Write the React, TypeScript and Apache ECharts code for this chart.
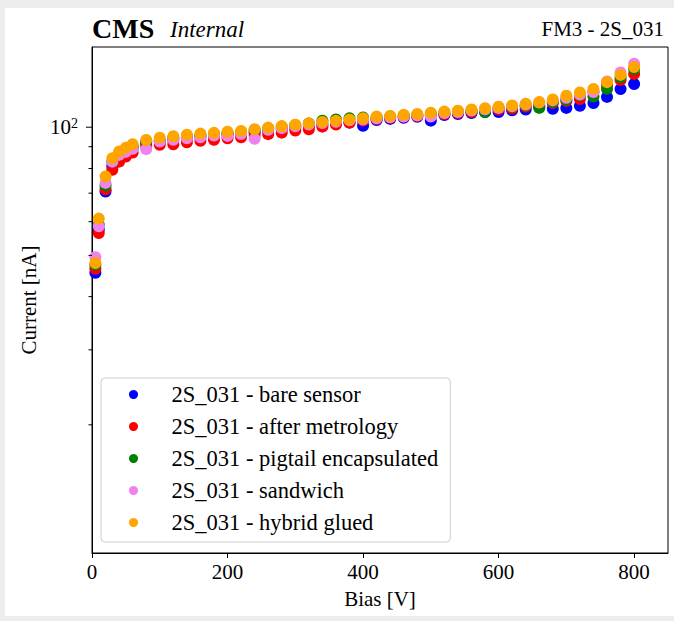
import React, { useEffect, useRef } from 'react';
import * as echarts from 'echarts';

const FONT = '"Liberation Serif", "Times New Roman", serif';

const biasV = [5, 10, 20, 30, 40, 50, 60, 80, 100, 120, 140, 160, 180, 200, 220, 240, 260, 280, 300, 320, 340, 360, 380, 400, 420, 440, 460, 480, 500, 520, 540, 560, 580, 600, 620, 640, 660, 680, 700, 720, 740, 760, 780, 800];

const bareSensor = [45.5, 57.5, 70.6, 81.0, 85.0, 87.3, 89.2, 91.8, 92.8, 93.5, 94.3, 95.0, 95.5, 96.0, 96.5, 97.3, 98.2, 99.0, 99.8, 100.5, 101.3, 102.0, 102.6, 100.8, 104.0, 104.6, 105.2, 105.8, 103.6, 106.8, 107.4, 108.0, 108.6, 108.5, 109.6, 110.0, 111.5, 110.5, 111.0, 112.3, 114.0, 117.8, 122.9, 126.3];
const afterMetrology = [46.5, 56.4, 71.5, 79.4, 83.0, 85.3, 87.2, 90.3, 90.9, 91.2, 92.2, 92.9, 93.4, 94.2, 94.7, 95.8, 96.3, 97.1, 98.2, 98.9, 100.3, 101.5, 102.5, 103.6, 104.5, 105.2, 105.8, 106.2, 106.8, 107.3, 108.0, 108.6, 109.3, 110.0, 110.6, 111.8, 112.6, 114.0, 115.3, 116.5, 121.0, 125.6, 129.1, 133.4];
const pigtailEncapsulated = [47.5, 59.0, 73.0, 83.0, 86.5, 88.5, 90.3, 92.5, 92.8, 94.3, 95.2, 95.8, 96.3, 97.0, 97.5, 98.5, 99.3, 100.2, 101.0, 102.0, 103.6, 104.3, 105.0, 105.4, 105.6, 106.0, 106.5, 107.0, 107.6, 108.2, 108.8, 109.4, 108.5, 111.0, 111.7, 112.6, 111.0, 114.5, 116.0, 118.8, 118.0, 123.0, 131.0, 137.0];
const sandwich = [49.5, 58.5, 74.0, 83.0, 86.1, 87.5, 89.0, 88.8, 92.5, 93.4, 94.2, 94.7, 95.6, 95.4, 96.4, 93.9, 98.6, 99.5, 100.5, 101.5, 102.3, 103.0, 103.8, 104.2, 105.0, 105.5, 106.0, 106.6, 106.0, 108.0, 108.6, 109.4, 110.2, 111.0, 112.0, 113.0, 114.3, 115.6, 117.2, 119.3, 121.0, 128.0, 134.5, 141.0];
const hybridGlued = [48.0, 61.0, 76.6, 84.6, 87.7, 89.5, 91.2, 93.3, 94.5, 95.2, 96.0, 96.6, 97.0, 97.6, 98.0, 98.9, 99.8, 100.6, 101.3, 102.1, 102.9, 103.5, 104.3, 105.0, 105.9, 106.3, 106.9, 107.4, 108.1, 108.8, 109.3, 110.1, 110.8, 111.7, 112.5, 113.5, 114.6, 116.2, 118.6, 120.7, 123.0, 127.6, 132.7, 138.5];

const seriesNames = [
  '2S_031 - bare sensor',
  '2S_031 - after metrology',
  '2S_031 - pigtail encapsulated',
  '2S_031 - sandwich',
  '2S_031 - hybrid glued',
];
const seriesValues = [bareSensor, afterMetrology, pigtailEncapsulated, sandwich, hybridGlued];
const seriesColors = ['#0000ff', '#ff0000', '#008000', '#ee82ee', '#ffa500'];

const xTickStep = 200;
const yMajorTicks = [100];
const yMinorTicks = [20, 30, 40, 50, 60, 70, 80, 90];

export default function App() {
  const ref = useRef<HTMLDivElement>(null);

  useEffect(() => {
    if (!ref.current) return;
    const chart = echarts.init(ref.current, undefined, { renderer: 'svg' });

    const scatterSeries = seriesNames.map((name, i) => ({
      type: 'scatter',
      name,
      data: biasV.map((x, j) => [x, seriesValues[i][j]]),
      symbol: 'circle',
      symbolSize: 12,
      itemStyle: { color: seriesColors[i], opacity: 1 },
      silent: true,
    }));

    const tickData = [
      ...yMinorTicks.map((v) => [0, v, 0]),
      ...yMajorTicks.map((v) => [0, v, 1]),
    ];

    const option: any = {
      animation: false,
      backgroundColor: '#ffffff',
      textStyle: { fontFamily: FONT },
      graphic: [
        { type: 'rect', shape: { x: 0, y: 0, width: 5, height: 621 }, style: { fill: '#ededed' }, silent: true },
        { type: 'rect', shape: { x: 0, y: 0, width: 674, height: 8 }, style: { fill: '#ededed' }, silent: true },
        { type: 'rect', shape: { x: 0, y: 616, width: 674, height: 5 }, style: { fill: '#ededed' }, silent: true },
        {
          type: 'text', x: 92, y: 28,
          style: { text: 'CMS', font: `bold 28px ${FONT}`, fill: '#000', textAlign: 'left', textVerticalAlign: 'middle' },
        },
        {
          type: 'text', x: 170, y: 29.5,
          style: { text: 'Internal', font: `italic 23px ${FONT}`, fill: '#000', textAlign: 'left', textVerticalAlign: 'middle' },
        },
        {
          type: 'text', x: 664, y: 29,
          style: { text: 'FM3 - 2S_031', font: `21px ${FONT}`, fill: '#000', textAlign: 'right', textVerticalAlign: 'middle' },
        },
      ],
      grid: {
        left: 92, right: 6, top: 47, bottom: 68,
        show: true, borderColor: '#000', borderWidth: 1, backgroundColor: 'transparent',
      },
      xAxis: {
        type: 'value', min: 0, max: 850, interval: xTickStep,
        axisLine: { show: true, lineStyle: { color: '#000', width: 1 } },
        axisTick: { show: true, length: 5, lineStyle: { color: '#000' } },
        axisLabel: { color: '#000', fontSize: 21, margin: 8, fontFamily: FONT, showMaxLabel: false },
        splitLine: { show: false },
        name: 'Bias [V]', nameLocation: 'middle', nameGap: 35,
        nameTextStyle: { color: '#000', fontSize: 21, fontFamily: FONT },
      },
      yAxis: {
        type: 'log', logBase: 10, min: 10, max: 154.3,
        axisLine: { show: true, lineStyle: { color: '#000', width: 1 } },
        axisTick: { show: false },
        splitLine: { show: false },
        axisLabel: {
          color: '#000', margin: 14, fontFamily: FONT,
          formatter: (v: number) => (Math.abs(v - 100) < 0.5 ? '{b|10}{s|2}' : ''),
          rich: {
            b: { fontSize: 21, fontFamily: FONT, color: '#000', lineHeight: 21 },
            s: { fontSize: 14, fontFamily: FONT, color: '#000', verticalAlign: 'top' },
          },
        },
        name: 'Current [nA]', nameLocation: 'middle', nameGap: 48, nameRotate: 90,
        nameTextStyle: { color: '#000', fontSize: 21, fontFamily: FONT },
      },
      legend: {
        data: seriesNames,
        orient: 'vertical',
        left: 101, top: 378,
        icon: 'circle',
        itemWidth: 20, itemHeight: 9,
        itemGap: 9,
        padding: [5, 12, 8, 28],
        backgroundColor: 'rgba(255,255,255,0.8)',
        borderColor: '#cccccc', borderWidth: 1, borderRadius: 4,
        selectedMode: false,
        textStyle: { fontFamily: FONT, fontSize: 22.5, color: '#000', lineHeight: 21.7, padding: [0, 0, 0, 23] },
      },
      series: [
        ...scatterSeries,
        {
          type: 'custom',
          name: 'yTicks',
          silent: true,
          clip: false,
          z: 10,
          data: tickData,
          renderItem: (_params: any, api: any) => {
            const p = api.coord([0, api.value(1)]);
            const len = api.value(2) ? 6 : 3.5;
            return {
              type: 'line',
              shape: { x1: p[0] - len, y1: p[1], x2: p[0], y2: p[1] },
              style: { stroke: '#000', lineWidth: 1 },
            };
          },
        },
      ],
    };

    chart.setOption(option);
    return () => chart.dispose();
  }, []);

  return (
    <div
      ref={ref}
      style={{ position: 'fixed', left: 0, top: 0, width: 674, height: 621 }}
    />
  );
}
